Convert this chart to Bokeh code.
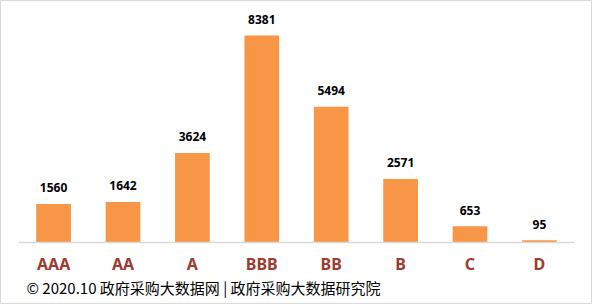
from bokeh.plotting import figure
from bokeh.models import FactorRange, Range1d, ColumnDataSource, Label
from bokeh.core.properties import value
from bokeh.embed import file_html
from bokeh.resources import INLINE

categories = ["AAA", "AA", "A", "BBB", "BB", "B", "C", "D"]
counts = [1560, 1642, 3624, 8381, 5494, 2571, 653, 95]
value_labels = [str(v) for v in counts]
footer_text = "© 2020.10 政府采购大数据网 | 政府采购大数据研究院"

W, H = 592, 304
# layout: baseline 62 px above bottom, 8381 bar reaches 207 px above baseline
px_per_unit = 207.0 / max(counts)
y_start = -62.0 / px_per_unit
y_end = y_start + H / px_per_unit

src = ColumnDataSource(dict(cat=categories, val=counts, lab=value_labels,
                            zero=[0] * len(categories)))

p = figure(width=W, height=H, output_backend="svg", toolbar_location=None,
           x_range=FactorRange(factors=categories, range_padding=0.265,
                               range_padding_units="absolute"),
           y_range=Range1d(y_start, y_end),
           x_axis_location=None, y_axis_location=None,
           min_border=0, min_border_left=0, min_border_right=0,
           min_border_top=0, min_border_bottom=0)
p.xgrid.visible = False
p.ygrid.visible = False
p.outline_line_color = "#D9D9D9"
p.outline_line_width = 1
p.background_fill_color = "white"
p.border_fill_color = "white"

p.vbar(x="cat", top="val", width=0.5, source=src, fill_color="#F79646",
       line_color=None)

# baseline
p.segment(x0=[(categories[0], -0.5)], y0=[0], x1=[(categories[-1], 0.5)], y1=[0],
          line_color="#D9D9D9", line_width=1.5)

# value labels
p.text(x="cat", y="val", text="lab", source=src, text_align="center",
       text_baseline="middle", y_offset=-16, text_font=value("Noto Sans"),
       text_font_style="bold", text_font_size="12px", text_color="black")

# category labels
p.text(x="cat", y="zero", text="cat", source=src, text_align="center",
       text_baseline="middle", y_offset=21, text_font=value("Noto Sans"),
       text_font_style="bold", text_font_size="16px", text_color="#9C3B33")

p.add_layout(Label(x=26, y=17, x_units="screen", y_units="screen",
                   text=footer_text, text_baseline="middle",
                   text_font="Noto Sans CJK SC", text_font_size="15px",
                   text_color="black"))

open("out.html", "w").write(file_html(p, INLINE))
